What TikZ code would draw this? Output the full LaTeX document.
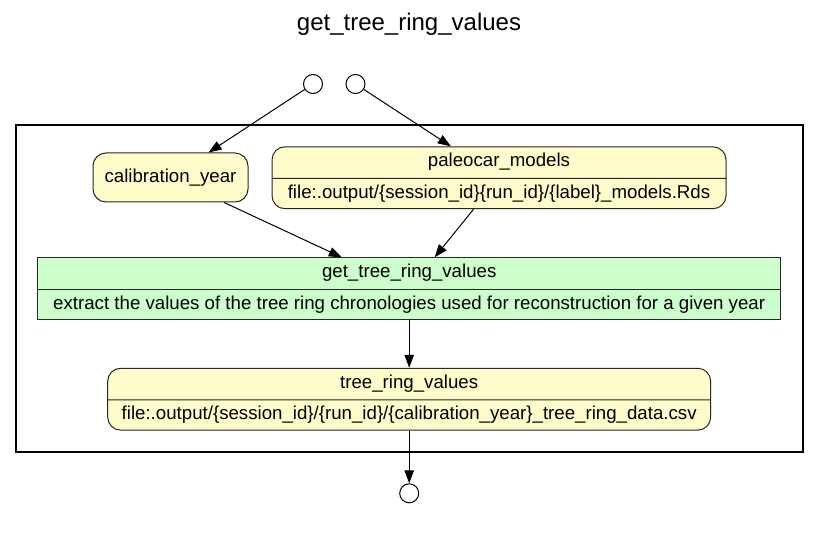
\documentclass[tikz,border=0pt]{standalone}
\usepackage{fontspec}
\setmainfont{Liberation Sans}
\usetikzlibrary{
  positioning, calc, arrows.meta,
  shapes.geometric, shapes.multipart
}
\begin{document}
\begin{tikzpicture}
      [x=1pt, y=-1pt,
       font=\fontsize{18.67}{22}\selectfont,
       port/.style={circle,draw=black,line width=1pt,minimum size=19pt,inner sep=0pt},
       dataobj/.style={rectangle split,rectangle split parts=2,rectangle split draw splits,
         rounded corners=13pt,draw=black!85,fill=yellow!20,line width=1pt,
         text height=13.5pt,text depth=5pt,inner ysep=6pt},
       param/.style={rectangle,rounded corners=13pt,draw=black!85,fill=yellow!20,line width=1pt,
         minimum width=155pt,minimum height=49pt},
       program/.style={rectangle split,rectangle split parts=2,rectangle split draw splits,
         draw=black!85,fill=green!20,line width=1pt,
         text height=13.5pt,text depth=5pt,inner ysep=6pt},
       flow/.style={-{Triangle[length=13pt,width=9.5pt]},line width=1pt}]
      \useasboundingbox (0,0) rectangle (819,540);

      \node (title) at (409,31) [anchor=base,font=\fontsize{24}{28}\selectfont] {get\_tree\_ring\_values};

      \draw[line width=2pt] (16,125) rectangle (802.5,451.5);

      \node (in1) at (313,84) [port] {};
      \node (in2) at (355.5,84) [port] {};

      \node (calib) at (170.5,177.5) [param] {calibration\_year};
      \node (models) at (499,177.75) [dataobj,minimum width=454pt]
        {paleocar\_models\nodepart{two}file:.output/\{session\_id\}\{run\_id\}/\{label\}\_models.Rds};

      \node (gtrv) at (409.2,288.8) [program,minimum width=743pt]
        {get\_tree\_ring\_values\nodepart{two}extract the values of the tree ring chronologies used for reconstruction for a given year};

      \node (trv) at (409.2,399.2) [dataobj,minimum width=603pt]
        {tree\_ring\_values\nodepart{two}file:.output/\{session\_id\}/\{run\_id\}/\{calibration\_year\}\_tree\_ring\_data.csv};

      \node (out) at (409.2,493.3) [port] {};

      \draw[flow] (in1) -- (calib);
      \draw[flow] (in2) -- (models);
      \draw[flow] (calib) -- (gtrv);
      \draw[flow] (models) -- (gtrv);
      \draw[flow] (gtrv) -- (trv);
      \draw[flow] (trv) -- (out);
\end{tikzpicture}
\end{document}
